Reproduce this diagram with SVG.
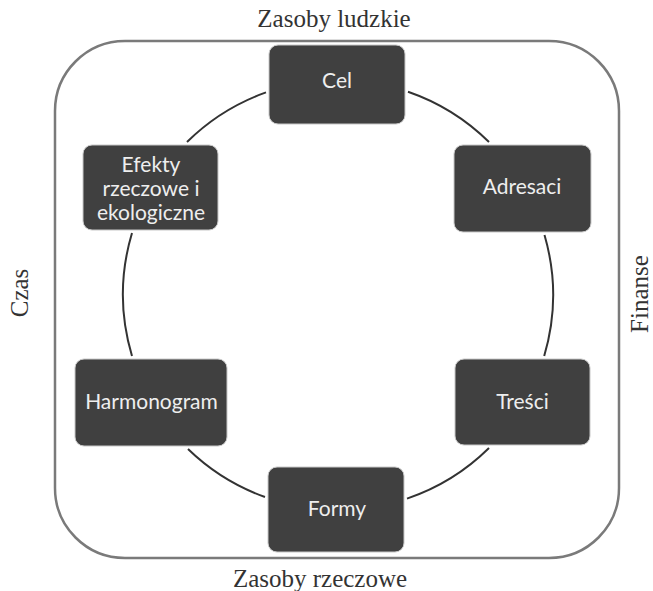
<svg xmlns="http://www.w3.org/2000/svg" width="653" height="591" viewBox="0 0 653 591">
<style>
.frame{fill:none;stroke:#7a7a7a;stroke-width:2.5}
.box{fill:#404040;stroke:#c8c8c8;stroke-width:1}
.lbl{font-family:Lato,"Open Sans",sans-serif;font-size:21px;fill:#eeeeee;text-anchor:middle}
.side{font-family:"Liberation Serif","Times New Roman",serif;font-size:25px;fill:#333;text-anchor:middle}
.arc{fill:none;stroke:#333;stroke-width:2}
</style>
<rect width="653" height="591" fill="#fff"/>
<g id="frame">
<rect class="frame" x="55" y="41" width="564" height="517" rx="70" ry="70"/>
<text class="side" x="334" y="27">Zasoby ludzkie</text>
<text class="side" x="320" y="587">Zasoby rzeczowe</text>
<text class="side" transform="translate(28,293) rotate(-90)">Czas</text>
<text class="side" transform="translate(648,294) rotate(-90)">Finanse</text>
</g>
<g id="connectors">
<path class="arc" d="M408,91.7 A215,215 0 0 1 489,142"/>
<path class="arc" d="M544.5,235 A215,215 0 0 1 544.2,356"/>
<path class="arc" d="M489,448 A215,215 0 0 1 407,498.6"/>
<path class="arc" d="M265,497 A215,215 0 0 1 188,449"/>
<path class="arc" d="M132,356 A215,215 0 0 1 132,233"/>
<path class="arc" d="M187,142 A215,215 0 0 1 266,92.4"/>
</g>
<g id="cel">
<rect class="box" x="269" y="45" width="136" height="79" rx="9"/>
<text class="lbl" x="337" y="88">Cel</text>
</g>
<g id="adresaci">
<rect class="box" x="454" y="145" width="137" height="87" rx="9"/>
<text class="lbl" x="522" y="194">Adresaci</text>
</g>
<g id="tresci">
<rect class="box" x="455" y="359" width="135" height="86" rx="9"/>
<text class="lbl" x="522.5" y="409">Treści</text>
</g>
<g id="formy">
<rect class="box" x="268" y="467" width="136" height="85" rx="9"/>
<text class="lbl" x="337" y="516">Formy</text>
</g>
<g id="harmonogram">
<rect class="box" x="75" y="359" width="152" height="87" rx="9"/>
<text class="lbl" x="151.5" y="409">Harmonogram</text>
</g>
<g id="efekty">
<rect class="box" x="83" y="145" width="135" height="85" rx="9"/>
<text class="lbl" x="151" y="172">Efekty</text>
<text class="lbl" x="151" y="196">rzeczowe i</text>
<text class="lbl" x="151" y="220">ekologiczne</text>
</g>
</svg>
